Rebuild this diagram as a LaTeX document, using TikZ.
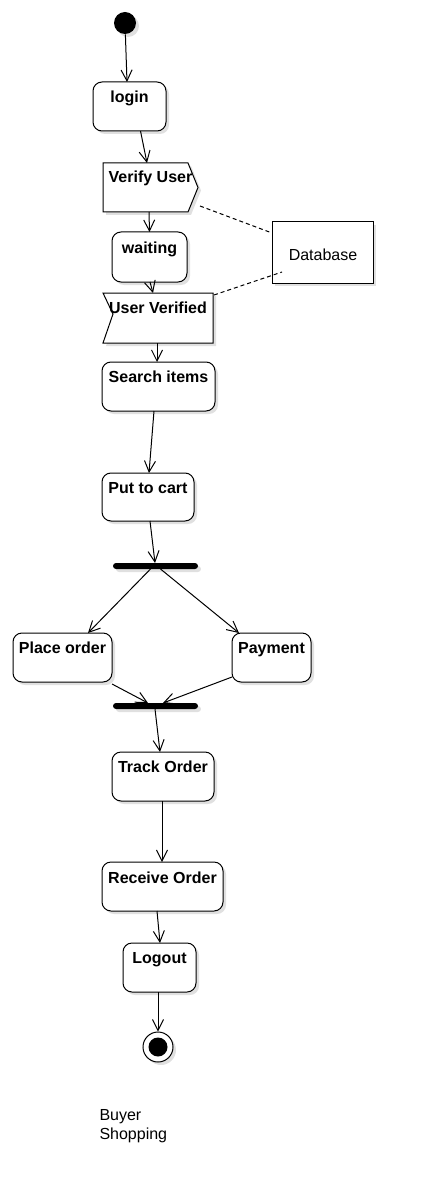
\documentclass[tikz,border=0pt]{standalone}
\usepackage{fontspec}
\setmainfont{Liberation Sans}
\usetikzlibrary{arrows.meta,calc,shadows}
\begin{document}
\begin{tikzpicture}[x=1pt,y=-1pt,line width=1pt,
  shad/.style={drop shadow={shadow xshift=3pt,shadow yshift=-3pt,opacity=0.12,fill=black}},
  act/.style={draw,rectangle,rounded corners=9pt,fill=white,shad,inner sep=0pt,outer sep=0pt},
  ghost/.style={rectangle,inner sep=0pt,outer sep=0pt},
  lab/.style={font=\bfseries\fontsize{16}{19}\selectfont,inner sep=0pt,anchor=base},
  plain/.style={font=\fontsize{16}{19}\selectfont,inner sep=0pt},
  bar/.style={fill=black,rectangle,rounded corners=3pt,minimum width=85pt,minimum height=6pt,inner sep=0pt,outer sep=0pt},
  arr/.style={-{Straight Barb[length=11pt,width=11pt]}},
  dashline/.style={dashed,dash pattern=on 4pt off 3pt}
]
\useasboundingbox (0,0) rectangle (422,1198);

% initial node
\node[circle,fill=black,minimum size=22pt,inner sep=0pt,shad] (start) at (125,23) {};

% login
\node[act,minimum width=73pt,minimum height=49pt] (login) at (129.5,106.5) {};
\node[lab] (loginT) at ([yshift=-21pt]login.north) {login};

% Verify User (send signal)
\node[ghost,minimum width=95pt,minimum height=49pt] (verify) at (150.5,187.5) {};
\draw[fill=white,shad] (verify.north west) -- ([xshift=-10pt]verify.north east) -- (verify.east)
  -- ([xshift=-10pt]verify.south east) -- (verify.south west) -- cycle;
\node[lab] (verifyT) at ([yshift=-20pt]verify.north) {Verify User};

% waiting
\node[act,minimum width=75pt,minimum height=50pt] (waiting) at (149.5,257) {};
\node[lab] (waitingT) at ([yshift=-21pt]waiting.north) {waiting};

% Database
\node[draw,rectangle,fill=white,shad,minimum width=101pt,minimum height=61pt,inner sep=0pt,outer sep=0pt] (db) at (322.5,252.5) {};
\node[plain] (dbT) at (323,255) {Database};

% User Verified (receive signal)
\node[ghost,minimum width=110pt,minimum height=50pt] (uv) at (158,318) {};
\draw[fill=white,shad] (uv.north west) -- (uv.north east) -- (uv.south east)
  -- (uv.south west) -- ([xshift=10pt,yshift=4pt]uv.west) -- cycle;
\node[lab] (uvT) at ([yshift=-20pt]uv.north) {User Verified};

% Search items
\node[act,minimum width=113pt,minimum height=49pt] (search) at (158.5,386.5) {};
\node[lab] (searchT) at ([yshift=-20pt]search.north) {Search items};

% Put to cart
\node[act,minimum width=92pt,minimum height=48pt] (cart) at (148,497) {};
\node[lab] (cartT) at ([yshift=-20pt]cart.north) {Put to cart};

% fork
\node[bar,shad] (fork) at (155.5,566) {};

% Place order
\node[act,minimum width=99pt,minimum height=49pt] (place) at (62.5,657.5) {};
\node[lab] (placeT) at ([yshift=-20pt]place.north) {Place order};

% Payment
\node[act,minimum width=79pt,minimum height=49pt] (pay) at (271.5,657.5) {};
\node[lab] (payT) at ([yshift=-20pt]pay.north) {Payment};

% join
\node[bar,shad] (join) at (155.5,706) {};

% Track Order
\node[act,minimum width=102pt,minimum height=49pt] (track) at (163,776.5) {};
\node[lab] (trackT) at ([yshift=-20pt]track.north) {Track Order};

% Receive Order
\node[act,minimum width=121pt,minimum height=49pt] (recv) at (162.5,886.5) {};
\node[lab] (recvT) at ([yshift=-21pt]recv.north) {Receive Order};

% Logout
\node[act,minimum width=73pt,minimum height=49pt] (logout) at (159.5,967.5) {};
\node[lab] (logoutT) at ([yshift=-20pt]logout.north) {Logout};

% final node
\node[circle,draw,fill=white,minimum size=30pt,inner sep=0pt,shad] (final) at (158,1047) {};
\node[circle,fill=black,minimum size=19pt,inner sep=0pt] (finalIn) at (final.center) {};

% caption
\node[plain,align=left,anchor=north west] (cap) at (99,1109) {Buyer\\Shopping};

% connectors
\draw[arr] (start) -- ([xshift=-2.5pt]login.north);
\draw[arr] ([xshift=11pt]login.south) -- ([xshift=-3.5pt]verify.north);
\draw[arr] ([xshift=-1.5pt]verify.south) -- (waiting.north);
\draw[arr] ([xshift=0.5pt]waiting.south) -- ([xshift=-5pt]uv.north);
\draw[arr] ([xshift=-1pt]uv.south) -- ([xshift=-1.5pt]search.north);
\draw[arr] ([xshift=-4.5pt]search.south) -- ([xshift=1pt]cart.north);
\draw[arr] ([xshift=2pt]cart.south) -- ([xshift=-0.5pt]fork.north);
\draw[arr] ([xshift=-5pt]fork.south) -- ([xshift=25.5pt]place.north);
\draw[arr] ([xshift=5pt]fork.south) -- ([xshift=-32.5pt]pay.north);
\draw[arr] ([yshift=-2pt]place.south east) -- ([xshift=-7.5pt]join.north);
\draw[arr] ([yshift=5pt]pay.south west) -- ([xshift=7.5pt]join.north);
\draw[arr] ([xshift=-0.5pt]join.south) -- ([xshift=-3pt]track.north);
\draw[arr] ([xshift=-1pt]track.south) -- ([xshift=-0.5pt]recv.north);
\draw[arr] ([xshift=-5.5pt]recv.south) -- ([xshift=0.5pt]logout.north);
\draw[arr] ([xshift=-1.5pt]logout.south) -- (final.north);

\draw[dashline] ([xshift=2pt,yshift=6pt]verify.south east) -- ([yshift=-11pt]db.north west);
\draw[dashline] ([xshift=1pt,yshift=-2pt]uv.north east) -- ([xshift=10pt,yshift=11pt]db.south west);
\end{tikzpicture}
\end{document}
